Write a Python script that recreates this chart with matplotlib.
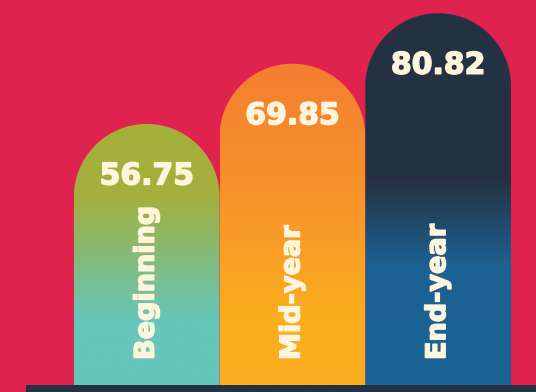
import numpy as np
import matplotlib
matplotlib.use("Agg")
import matplotlib.pyplot as plt
import matplotlib.patheffects as pe
from matplotlib.path import Path
from matplotlib.patches import PathPatch, Rectangle
from matplotlib.colors import LinearSegmentedColormap

# values per period
periods = ["Beginning", "Mid-year", "End-year"]
scores = [56.75, 69.85, 80.82]

# colour stops for each bar, (fraction of bar height from the base, colour)
bar_stops = [
    [(0.0, "#66c6b9"), (0.25, "#66c6b9"), (0.72, "#a3b03e"), (1.0, "#a6b03a")],
    [(0.0, "#fbae1f"), (0.2, "#fbad1f"), (0.6, "#f7932a"), (1.0, "#f47e30")],
    [(0.0, "#1b6494"), (0.32, "#1c6292"), (0.55, "#253243"), (1.0, "#243142")],
]

bg = "#e0234e"
cream = "#fff5dc"
navy = "#243142"

W, H = 536, 392
px_per_unit = 4.6
fig = plt.figure(figsize=(W / 100, H / 100), dpi=100, facecolor=bg)
ax = fig.add_axes([0, 0, 1, 1])
ax.set_facecolor(bg)

bar_px = 146
ax.set_xlim(-0.5 - 74 / bar_px, 2.5 + (W - 511) / bar_px)
ax.set_ylim(-7 / px_per_unit, 385 / px_per_unit)
ax.axis("off")

ry = (bar_px / 2) / px_per_unit  # semicircle radius in value units
bold = [pe.withStroke(linewidth=1.1, foreground=cream)]


def dome(xc, top):
    # rectangle with a half-ellipse cap whose peak sits at `top`
    t = np.linspace(np.pi, 0, 60)
    xs = xc + 0.5 * np.cos(t)
    ys = (top - ry) + ry * np.sin(t)
    verts = [(xc - 0.5, 0)] + list(zip(xs, ys)) + [(xc + 0.5, 0), (xc - 0.5, 0)]
    codes = [Path.MOVETO] + [Path.LINETO] * (len(verts) - 2) + [Path.CLOSEPOLY]
    return Path(verts, codes)


for i, (name, val) in enumerate(zip(periods, scores)):
    cmap = LinearSegmentedColormap.from_list(f"g{i}", bar_stops[i])
    grad = np.linspace(1, 0, 400).reshape(-1, 1)
    im = ax.imshow(grad, cmap=cmap, vmin=0, vmax=1, aspect="auto",
                   extent=(i - 0.5, i + 0.5, 0, val), zorder=2,
                   interpolation="bilinear")
    patch = PathPatch(dome(i, val), facecolor="none", edgecolor="none")
    ax.add_patch(patch)
    im.set_clip_path(patch)

    ax.text(i, val - 52 / px_per_unit, f"{val:.2f}", ha="center", va="center",
            color=cream, fontsize=21.5, fontweight="bold", zorder=4,
            path_effects=bold)
    ax.text(i, 25 / px_per_unit, name, rotation=90, ha="center", va="bottom",
            color=cream, fontsize=19.5, fontweight="bold", zorder=4,
            path_effects=bold)

# dark base strip
ax.add_patch(Rectangle((26 / W, 0), 1, 7 / H, transform=ax.transAxes,
                       facecolor=navy, edgecolor="none", zorder=5))

fig.savefig("out.png", dpi=100, facecolor=bg)
